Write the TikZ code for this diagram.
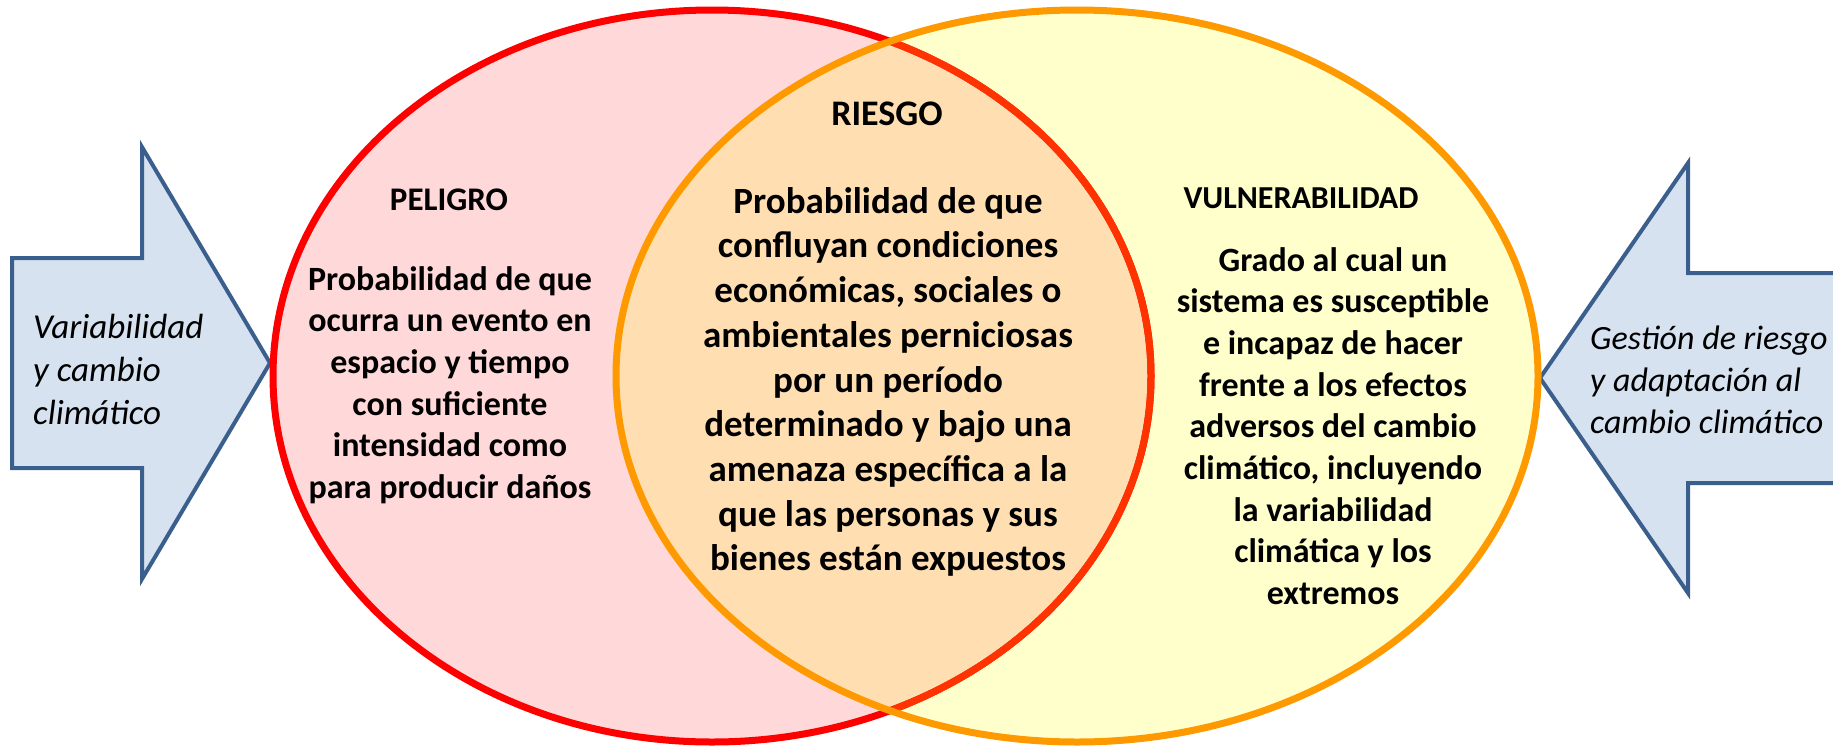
\documentclass[tikz,border=0pt]{standalone}
\usepackage{fontspec}
\setmainfont{Carlito}
\usetikzlibrary{positioning}

\definecolor{rojo}{HTML}{FF0000}
\definecolor{rojoclaro}{HTML}{FFD8D9}
\definecolor{naranja}{HTML}{FF9900}
\definecolor{rojonaranja}{HTML}{FF3300}
\definecolor{amarillo}{HTML}{FFFFCC}
\definecolor{durazno}{HTML}{FFDFB2}
\definecolor{flechaborde}{HTML}{3B5F8C}
\definecolor{flechafondo}{HTML}{D7E2F0}

\tikzset{
    flecha/.style={draw=flechaborde, fill=flechafondo, line width=4pt, line join=miter},
    titulo/.style={anchor=base, inner sep=0pt, font=\fontsize{33}{40}\selectfont\bfseries},
    cuerpo/.style={align=center, inner sep=0pt, font=\fontsize{34}{41.7}\selectfont\bfseries},
    lado/.style={align=left, anchor=west, inner sep=0pt, font=\fontsize{35}{43}\selectfont\itshape}
}

\begin{document}
\begin{tikzpicture}[x=1pt, y=-1pt]
    \clip (0,0) rectangle (1833,745);

    % flechas laterales
    \draw[flecha] (12,258) -- (142,258) -- (142,147) -- (270,363) -- (142,579) -- (142,468) -- (12,468) -- cycle;
    \draw[flecha] (1850,273) -- (1688,273) -- (1688,163) -- (1540,378) -- (1688,593) -- (1688,483) -- (1850,483) -- cycle;

    % elipses
    \fill[rojoclaro] (712,376) ellipse [x radius=439, y radius=366];
    \fill[amarillo] (1077,376) ellipse [x radius=461, y radius=366];
    \begin{scope}
        \clip (712,376) ellipse [x radius=439, y radius=366];
        \fill[durazno] (1077,376) ellipse [x radius=461, y radius=366];
    \end{scope}
    \draw[rojo, line width=7pt] (712,376) ellipse [x radius=439, y radius=366];
    \begin{scope}
        \clip (1077,376) ellipse [x radius=461, y radius=366];
        \draw[rojonaranja, line width=7pt] (712,376) ellipse [x radius=439, y radius=366];
    \end{scope}
    \draw[naranja, line width=7pt] (1077,376) ellipse [x radius=461, y radius=366];

    % textos
    \node (peligro) [titulo] at (449,210) {PELIGRO};
    \node (riesgo) [titulo, font=\fontsize{36}{43}\selectfont\bfseries] at (887,125) {RIESGO};
    \node (vulnerabilidad) [titulo, font=\fontsize{32}{39}\selectfont\bfseries] at (1301,208) {VULNERABILIDAD};

    \node (defpeligro) [cuerpo] at (450,385) {Probabilidad de que\\ocurra un evento en\\espacio y tiempo\\con suficiente\\intensidad como\\para producir daños};
    \node (defriesgo) [cuerpo, font=\fontsize{37}{44.7}\selectfont\bfseries] at (888,382) {Probabilidad de que\\confluyan condiciones\\económicas, sociales o\\ambientales perniciosas\\por un período\\determinado y bajo una\\amenaza específica a la\\que las personas y sus\\bienes están expuestos};
    \node (defvulnerabilidad) [cuerpo] at (1333,426) {Grado al cual un\\sistema es susceptible\\e incapaz de hacer\\frente a los efectos\\adversos del cambio\\climático, incluyendo\\la variabilidad\\climática y los\\extremos};

    \node (variabilidad) [lado] at (33,369) {Variabilidad\\y cambio\\climático};
    \node (gestion) [lado, font=\fontsize{34}{41.7}\selectfont\itshape] at (1590,380) {Gestión de riesgo\\y adaptación al\\cambio climático};
\end{tikzpicture}
\end{document}
